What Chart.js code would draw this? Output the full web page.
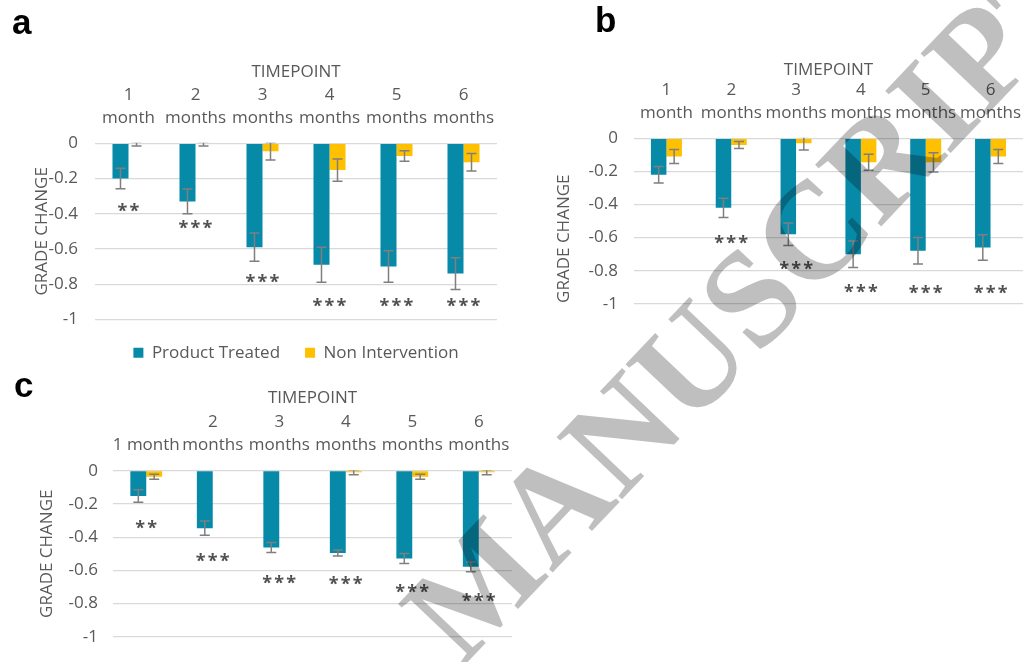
<!DOCTYPE html>
<html lang="en">
<head>
    <meta charset="UTF-8">
    <title>Grade change by timepoint</title>
    <script src="https://cdn.jsdelivr.net/npm/chart.js"></script>
    <style>
        body { margin: 0; background: #fff; overflow: hidden; }
        #page { position: relative; width: 1032px; height: 662px; overflow: hidden; }
        canvas { position: absolute; }
        #overlay { position: absolute; left: 0; top: 0; pointer-events: none; }
    </style>
</head>
<body>
    <div id="page">
        <canvas id="chartA" width="520" height="340" style="left:0;top:40px"></canvas>
        <canvas id="chartB" width="505" height="290" style="left:530px;top:40px"></canvas>
        <canvas id="chartC" width="530" height="282" style="left:0;top:380px"></canvas>
        <svg id="overlay" width="1032" height="662">
            <text x="12" y="34" font-family="Liberation Sans" font-weight="bold" font-size="35">a</text>
            <text x="595" y="32" font-family="Liberation Sans" font-weight="bold" font-size="35">b</text>
            <text x="14" y="397" font-family="Liberation Sans" font-weight="bold" font-size="35">c</text>
            <text x="462" y="668" transform="rotate(-46.5 462 668)" font-family="Liberation Serif" font-weight="bold" font-size="138" fill="rgba(0,0,0,0.25)">MANUSCRIPT</text>
        </svg>
    </div>

    <script>
        // categories
        const timepoints = [['1', 'month'], ['2', 'months'], ['3', 'months'], ['4', 'months'], ['5', 'months'], ['6', 'months']];
        const timepointsC = ['1 month', ['2', 'months'], ['3', 'months'], ['4', 'months'], ['5', 'months'], ['6', 'months']];
        const seriesNames = ['Product Treated', 'Non Intervention'];
        const yTicks = [0, -0.2, -0.4, -0.6, -0.8, -1];

        // panel a
        const treatedA = [-0.20, -0.33, -0.59, -0.69, -0.70, -0.74];
        const treatedErrA = [0.058, 0.07, 0.08, 0.10, 0.09, 0.09];
        const controlA = [-0.004, -0.004, -0.045, -0.152, -0.072, -0.108];
        const controlErrA = [0.012, 0.012, 0.05, 0.063, 0.03, 0.05];
        const starsA = ['**', '***', '***', '***', '***', '***'];
        const starsAtA = [-0.364, -0.462, -0.769, -0.902, -0.902, -0.902];

        // panel b
        const treatedB = [-0.22, -0.42, -0.58, -0.70, -0.68, -0.66];
        const treatedErrB = [0.05, 0.058, 0.068, 0.08, 0.08, 0.077];
        const controlB = [-0.11, -0.04, -0.03, -0.145, -0.145, -0.11];
        const controlErrB = [0.042, 0.021, 0.04, 0.048, 0.058, 0.042];
        const starsB = ['', '***', '***', '***', '***', '***'];
        const starsAtB = [null, -0.609, -0.77, -0.905, -0.915, -0.915];

        // panel c
        const treatedC = [-0.152, -0.346, -0.462, -0.495, -0.529, -0.579];
        const treatedErrC = [0.038, 0.043, 0.03, 0.018, 0.03, 0.03];
        const controlC = [-0.036, 0, 0, -0.009, -0.036, -0.009];
        const controlErrC = [0.015, 0, 0, 0.015, 0.015, 0.015];
        const starsC = ['**', '***', '***', '***', '***', '***'];
        const starsAtC = [-0.323, -0.522, -0.654, -0.661, -0.711, -0.762];

        const teal = '#0789a8';
        const gold = '#ffc000';
        const textGrey = '#595959';
        const font17 = { family: 'Open Sans', size: 17, lineHeight: 1.2 };

        // whiskers with caps, from the datasets' errors arrays
        const errorBars = {
            id: 'errorBars',
            afterDatasetsDraw(chart) {
                const { ctx, chartArea } = chart;
                const y = chart.scales.y;
                ctx.save();
                ctx.beginPath();
                ctx.rect(chartArea.left, chartArea.top - 0.5, chartArea.width, chartArea.height + 1);
                ctx.clip();
                ctx.strokeStyle = '#7f7f7f';
                ctx.lineWidth = 1.5;
                chart.data.datasets.forEach((ds, i) => {
                    chart.getDatasetMeta(i).data.forEach((bar, j) => {
                        const e = ds.errors[j];
                        if (!e) return;
                        const lo = y.getPixelForValue(ds.data[j] - e);
                        const hi = y.getPixelForValue(ds.data[j] + e);
                        ctx.beginPath();
                        ctx.moveTo(bar.x, lo); ctx.lineTo(bar.x, hi);
                        ctx.moveTo(bar.x - 5, lo); ctx.lineTo(bar.x + 5, lo);
                        ctx.moveTo(bar.x - 5, hi); ctx.lineTo(bar.x + 5, hi);
                        ctx.stroke();
                    });
                });
                ctx.restore();
            }
        };

        function starMarks(marks, at) {
            return {
                id: 'starMarks',
                afterDatasetsDraw(chart) {
                    const ctx = chart.ctx;
                    const x = chart.scales.x, y = chart.scales.y;
                    ctx.save();
                    ctx.fillStyle = '#505050';
                    ctx.font = 'bold 18px "Open Sans"';
                    ctx.textAlign = 'center';
                    ctx.textBaseline = 'alphabetic';
                    const m = ctx.measureText('*');
                    const shift = (m.actualBoundingBoxAscent - m.actualBoundingBoxDescent) / 2;
                    marks.forEach((s, i) => {
                        if (!s) return;
                        const cx = x.getPixelForValue(i);
                        const cy = y.getPixelForValue(at[i]) + shift;
                        for (let k = 0; k < s.length; k++) {
                            ctx.fillText('*', cx + (k - (s.length - 1) / 2) * 12, cy);
                        }
                    });
                    ctx.restore();
                }
            };
        }

        function buildChart(id, labels, treated, treatedErr, control, controlErr, marks, marksAt, lay) {
            return new Chart(document.getElementById(id), {
                type: 'bar',
                data: {
                    labels: labels,
                    datasets: [
                        { label: seriesNames[0], data: treated, errors: treatedErr, backgroundColor: teal, borderColor: teal, borderWidth: 0 },
                        { label: seriesNames[1], data: control, errors: controlErr, backgroundColor: gold, borderColor: gold, borderWidth: 0 }
                    ]
                },
                options: {
                    responsive: false,
                    animation: false,
                    layout: { padding: lay.pad },
                    datasets: { bar: { categoryPercentage: 0.478, barPercentage: 1 } },
                    plugins: {
                        tooltip: { enabled: false },
                        legend: lay.legend ? {
                            position: 'bottom',
                            fullSize: false,
                            labels: { boxWidth: 10, boxHeight: 10, padding: 25, color: textGrey, font: font17 }
                        } : { display: false }
                    },
                    scales: {
                        x: {
                            position: 'top',
                            grid: { display: false, drawTicks: false },
                            border: { display: false },
                            ticks: { color: textGrey, font: { family: 'Open Sans', size: 17, lineHeight: 1.35 }, padding: lay.xTickPad, autoSkip: false, maxRotation: 0 },
                            title: { display: true, text: 'TIMEPOINT', color: textGrey, font: font17, padding: { top: lay.xTitle, bottom: 0 } },
                            afterFit: s => { s.height = lay.xH; }
                        },
                        y: {
                            min: -1,
                            max: 0,
                            afterBuildTicks: s => { s.ticks = yTicks.map(v => ({ value: v })); },
                            grid: { color: '#d9d9d9', lineWidth: 1.2, drawTicks: false },
                            border: { display: false },
                            ticks: { color: textGrey, font: font17, padding: lay.yTickPad, callback: v => String(v) },
                            title: { display: true, text: lay.yText, color: textGrey, font: font17, padding: { top: lay.yTitle, bottom: 0 } },
                            afterFit: s => { s.width = lay.yW; }
                        }
                    }
                },
                plugins: [errorBars, starMarks(marks, marksAt)]
            });
        }

        buildChart('chartA', timepoints, treatedA, treatedErrA, controlA, controlErrA, starsA, starsAtA, {
            pad: { left: 0, right: 23, top: 0, bottom: 8.7 }, legend: true,
            xH: 103.3, yW: 95, xTitle: 21.5, yTitle: 31.8, xTickPad: 13.8, yTickPad: 17,
            yText: 'GRADE CHANGE'
        });

        buildChart('chartB', timepoints, treatedB, treatedErrB, controlB, controlErrB, starsB, starsAtB, {
            pad: { left: 0, right: 2, top: 0, bottom: 19.3 }, legend: false,
            xH: 98.3, yW: 104, xTitle: 19.8, yTitle: 23.8, xTickPad: 13.8, yTickPad: 16,
            yText: 'GRADE CHANGE' + '\u00a0'.repeat(8)
        });

        buildChart('chartC', timepointsC, treatedC, treatedErrC, controlC, controlErrC, starsC, starsAtC, {
            pad: { left: 0, right: 18, top: 0, bottom: 5.3 }, legend: false,
            xH: 90.7, yW: 113, xTitle: 7.8, yTitle: 36.8, xTickPad: 14.2, yTickPad: 15,
            yText: 'GRADE CHANGE'
        });
    </script>
</body>
</html>
